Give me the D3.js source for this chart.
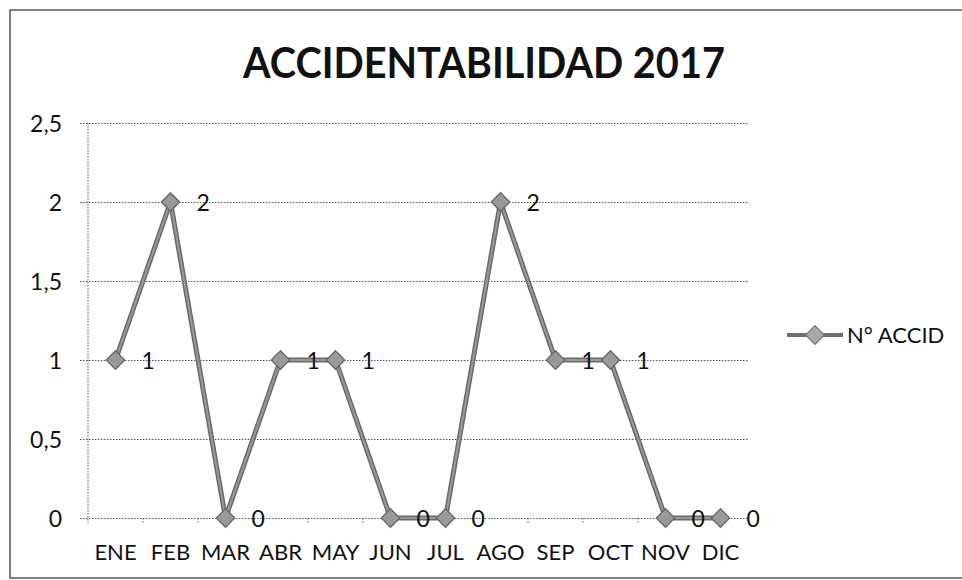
<!DOCTYPE html>
<html>
<head>
<meta charset="utf-8">
<script src="https://cdn.jsdelivr.net/npm/d3@7"></script>
<style>
    body { margin: 0; background: #fff; }
    text { font-family: Lato, "Open Sans", sans-serif; fill: #111; }
</style>
</head>
<body>
<div id="chart"></div>
<script>
// Data
const months = ['ENE', 'FEB', 'MAR', 'ABR', 'MAY', 'JUN', 'JUL', 'AGO', 'SEP', 'OCT', 'NOV', 'DIC'];
const accidents = [1, 2, 0, 1, 1, 0, 0, 2, 1, 1, 0, 0];
const yTicks = [0, 0.5, 1, 1.5, 2, 2.5];
const seriesName = 'N° ACCID';
const chartTitle = 'ACCIDENTABILIDAD 2017';

function draw() {
    const dimensions = {
        width: 962,
        height: 580,
        plot: { left: 88, right: 748, top: 123, bottom: 518 }
    };

    const xScale = d3.scaleBand()
        .domain(months)
        .range([dimensions.plot.left, dimensions.plot.right]);

    const yScale = d3.scaleLinear()
        .domain([0, 2.5])
        .range([dimensions.plot.bottom, dimensions.plot.top]);

    const svg = d3.select('#chart')
        .append('svg')
        .attr('width', dimensions.width)
        .attr('height', dimensions.height);

    // outer chart border
    svg.append('rect')
        .attr('x', 10)
        .attr('y', 10)
        .attr('width', 980)
        .attr('height', 568)
        .attr('fill', 'none')
        .attr('stroke', '#555')
        .attr('stroke-width', 1.5);

    // Title
    svg.append('text')
        .attr('x', 484)
        .attr('y', 78)
        .attr('text-anchor', 'middle')
        .attr('font-size', 42)
        .attr('font-weight', 'bold')
        .attr('textLength', 482)
        .attr('lengthAdjust', 'spacingAndGlyphs')
        .text(chartTitle);

    // Gridlines + y axis
    const yAxis = d3.axisLeft(yScale)
        .tickValues(yTicks)
        .tickSize(-(dimensions.plot.right - dimensions.plot.left + 8))
        .tickPadding(18)
        .tickFormat(d => String(d).replace('.', ','));

    const yAxisGroup = svg.append('g')
        .attr('transform', `translate(${dimensions.plot.left - 8},0)`)
        .call(yAxis);
    yAxisGroup.select('.domain').remove();
    yAxisGroup.selectAll('.tick line')
        .attr('stroke', '#555')
        .attr('stroke-dasharray', '1.5,1.5');
    yAxisGroup.selectAll('.tick text')
        .attr('font-size', 23)
        .attr('font-family', 'Lato, sans-serif')
        .attr('fill', '#111')
        .attr('dy', '0.35em');

    // vertical axis line
    svg.append('line')
        .attr('x1', dimensions.plot.left)
        .attr('x2', dimensions.plot.left)
        .attr('y1', dimensions.plot.top)
        .attr('y2', dimensions.plot.bottom + 5)
        .attr('stroke', '#555')
        .attr('stroke-dasharray', '1.5,1.5');

    // x axis: ticks at category boundaries
    const boundaries = months.map(m => xScale(m)).concat([dimensions.plot.right]);
    svg.append('g')
        .selectAll('line')
        .data(boundaries.slice(1, -1))
        .join('line')
        .attr('x1', d => d)
        .attr('x2', d => d)
        .attr('y1', dimensions.plot.bottom)
        .attr('y2', dimensions.plot.bottom + 6)
        .attr('stroke', '#555')
        .attr('stroke-dasharray', '1.5,1.5');

    svg.append('g')
        .selectAll('text')
        .data(months)
        .join('text')
        .attr('x', d => xScale(d) + xScale.bandwidth() / 2)
        .attr('y', 560)
        .attr('text-anchor', 'middle')
        .attr('font-size', 22)
        .text(d => d);

    // Line
    const cx = (d, i) => xScale(months[i]) + xScale.bandwidth() / 2;
    const line = d3.line()
        .x(cx)
        .y(d => yScale(d));

    svg.append('path')
        .datum(accidents)
        .attr('d', line)
        .attr('fill', 'none')
        .attr('stroke', '#6a6a6a')
        .attr('stroke-width', 5)
        .attr('stroke-linejoin', 'round');
    svg.append('path')
        .datum(accidents)
        .attr('d', line)
        .attr('fill', 'none')
        .attr('stroke', '#999')
        .attr('stroke-width', 2)
        .attr('stroke-linejoin', 'round');

    // Markers
    const diamond = d3.symbol().type(d3.symbolDiamond2).size(220);
    svg.append('g')
        .selectAll('path')
        .data(accidents)
        .join('path')
        .attr('d', diamond)
        .attr('transform', (d, i) => `translate(${cx(d, i)},${yScale(d)})`)
        .attr('fill', '#999')
        .attr('stroke', '#666')
        .attr('stroke-width', 1.2);

    // Data labels
    svg.append('g')
        .selectAll('text')
        .data(accidents)
        .join('text')
        .attr('x', (d, i) => cx(d, i) + 26)
        .attr('y', d => yScale(d) + 9)
        .attr('font-size', 23)
        .text(d => d);

    // Legend
    const legend = svg.append('g')
        .attr('transform', 'translate(787,335)');
    legend.append('line')
        .attr('x1', 0)
        .attr('x2', 56)
        .attr('stroke', '#6e6e6e')
        .attr('stroke-width', 4);
    legend.append('path')
        .attr('d', diamond)
        .attr('transform', 'translate(28,0)')
        .attr('fill', '#aaa')
        .attr('stroke', '#777')
        .attr('stroke-width', 1.2);
    legend.append('text')
        .attr('x', 60)
        .attr('y', 8)
        .attr('font-size', 22)
        .text(seriesName);
}

draw();
</script>
</body>
</html>
